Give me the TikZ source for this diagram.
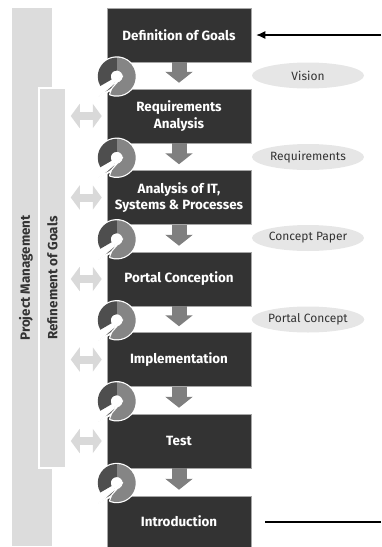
\documentclass[tikz,border=0pt]{standalone}
\usepackage{fontspec}
\setmainfont{Fira Sans}
\usetikzlibrary{arrows.meta,calc,shapes.geometric}
\definecolor{boxc}{HTML}{333333}
\definecolor{barc}{HTML}{DCDCDC}
\definecolor{bidc}{HTML}{D9D9D9}
\definecolor{ellc}{HTML}{E6E6E6}
\definecolor{downc}{HTML}{7F7F7F}
\definecolor{ringd}{HTML}{4E4E4E}
\definecolor{ringl}{HTML}{858585}
\definecolor{ringh}{HTML}{606060}
\definecolor{txtc}{HTML}{333333}
\newcommand\ringicon[1]{%
  \begin{scope}[shift={(#1)},yscale=-1]
    \filldraw[white,line width=2.4pt,line join=round]
      (-110:19) arc[start angle=-110,end angle=210,radius=19] -- (210:6) arc[start angle=210,end angle=-110,radius=6] -- cycle
      (6,0.5) -- (-6,-13) -- (-18,-20) -- cycle;
    \fill[ringl] (-110:19) arc[start angle=-110,end angle=90,radius=19] -- (90:6) arc[start angle=90,end angle=-110,radius=6] -- cycle;
    \fill[ringd] (90:19) arc[start angle=90,end angle=210,radius=19] -- (210:6) arc[start angle=210,end angle=90,radius=6] -- cycle;
    \filldraw[fill=ringh,draw=white,line width=1.1pt,line join=round] (6,0.5) -- (-6,-13) -- (-18,-20) -- cycle;
  \end{scope}}
\begin{document}
\begin{tikzpicture}[x=1pt,y=-1pt,
  stagebox/.style={rectangle,fill=boxc,draw=gray!70,line width=0.5pt,minimum width=144pt,minimum height=54pt,inner sep=0pt,text=white,font=\bfseries\fontsize{13.4}{16.5}\selectfont,align=center},
  bar/.style={rectangle,fill=barc,inner sep=0pt},
  barlabel/.style={rotate=90,font=\bfseries\fontsize{13.4}{15}\selectfont,text=txtc,inner sep=0pt},
  outcome/.style={ellipse,fill=ellc,minimum width=112pt,minimum height=26pt,inner sep=0pt,text=txtc,font=\fontsize{12}{14}\selectfont},
  downarr/.style={draw=downc,line width=15pt,-{Triangle[width=27pt,length=11pt]},shorten >=6pt},
  bidir/.style={draw=bidc,line width=8pt,{Triangle[width=24pt,length=9pt]}-{Triangle[width=24pt,length=9pt]}},
  thinline/.style={draw=black,line width=1.2pt}]
\useasboundingbox (0,0) rectangle (381,547);
% bars
\node[bar,minimum width=40pt,minimum height=538pt] (pm) at (32,277) {};
\node[bar,draw=white,line width=1.5pt,minimum width=27pt,minimum height=380pt] (rg) at (52.5,278) {};
\node[barlabel] (pml) at (26,278) {Project Management};
\node[barlabel] (rgl) at (52.5,278) {Refinement of Goals};
% stage boxes
\node[stagebox] (b1) at (179,35) {Definition of Goals};
\node[stagebox] (b2) at (179,116) {Requirements\\Analysis};
\node[stagebox] (b3) at (179,197.5) {Analysis of IT,\\Systems \& Processes};
\node[stagebox] (b4) at (179,279) {Portal Conception};
\node[stagebox] (b5) at (179,359.5) {Implementation};
\node[stagebox] (b6) at (179,441) {Test};
\node[stagebox,minimum height=51pt] (b7) at (179,521.5) {Introduction};
% bidirectional arrows
\foreach \k in {2,...,6}
  \draw[bidir] ($(rg.east |- b\k.west)+(4,0)$) -- ($(b\k.west)+(-5,0)$);
% down arrows and ring icons
\foreach \i/\j in {1/2,2/3,3/4,4/5,5/6,6/7}{
  \draw[downarr] (b\i.south) -- (b\j.north);
  \coordinate (g\i) at ($(b\i.south west)!0.5!(b\j.north west)+(10,1)$);
}
\foreach \i in {1,...,6}{\ringicon{g\i}}
% outcomes
\node[outcome] (e1) at (308,75.5) {Vision};
\node[outcome] (e2) at (308,157) {Requirements};
\node[outcome] (e3) at (308,238) {Concept Paper};
\node[outcome] (e4) at (308,319.5) {Portal Concept};
% in/out lines
\coordinate (tin) at (381,35);
\coordinate (bout) at (381,522);
\draw[thinline,-{Latex[length=9pt,width=8pt]}] (tin) -- ([xshift=5pt]b1.east);
\draw[thinline] (bout) -- ([xshift=14pt]b7.east |- bout);
\end{tikzpicture}
\end{document}
